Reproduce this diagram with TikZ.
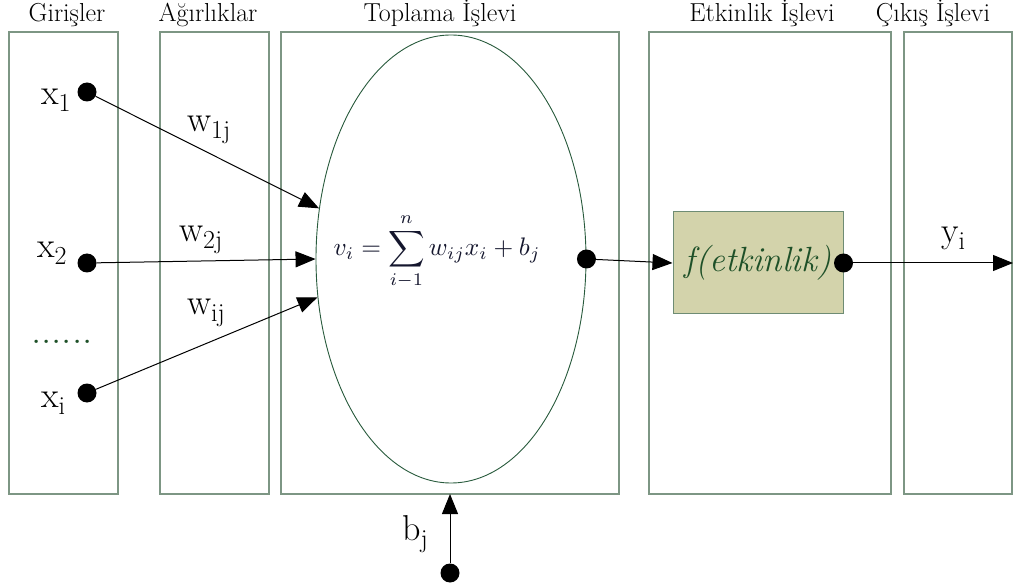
\documentclass[tikz,border=0pt]{standalone}
\usepackage{fontspec}
\usetikzlibrary{arrows.meta,shapes.geometric}
\definecolor{boxline}{RGB}{125,150,132}
\definecolor{ellline}{RGB}{40,90,60}
\definecolor{ffill}{RGB}{211,211,171}
\definecolor{fline}{RGB}{110,140,116}
\definecolor{ftext}{RGB}{30,80,40}
\definecolor{mtext}{RGB}{20,22,45}
\newcommand{\lblsub}[2]{{\fontsize{36}{40}\selectfont #1}\raisebox{-7pt}{\fontsize{26}{30}\selectfont #2}}
\begin{document}
\begin{tikzpicture}[x=1pt,y=-1pt,
  colbox/.style={draw=boxline, line width=1.3pt, inner sep=0pt, outer sep=0pt, minimum height=462pt},
  title/.style={font=\fontsize{26}{30}\selectfont, anchor=base, inner sep=0pt},
  dot/.style={circle, fill=black, minimum size=19pt, inner sep=0pt},
  arr/.style={-{Triangle[length=20pt,width=16pt]}, line width=1pt},
  lbl/.style={anchor=base west, inner sep=0pt}
]
\useasboundingbox (0,0) rectangle (1013,588);
% column boxes
\node[colbox, minimum width=109pt] (bin) at (63.5,263) {};
\node[colbox, minimum width=109pt] (bw) at (214.5,263) {};
\node[colbox, minimum width=338pt] (bsum) at (450,263) {};
\node[colbox, minimum width=242pt] (bact) at (770,263) {};
\node[colbox, minimum width=108pt] (bout) at (958,263) {};
% titles
\node[title] (t1) at (67,22) {Girişler};
\node[title] (t2) at (208,22) {Ağırlıklar};
\node[title] (t3) at (440,22) {Toplama İşlevi};
\node[title] (t4) at (762,22) {Etkinlik İşlevi};
\node[title] (t5) at (933,22) {Çıkış İşlevi};
% summation ellipse
\node[ellipse, draw=ellline, line width=0.9pt, minimum width=270pt, minimum height=448pt, inner sep=0pt] (sum) at (451,259) {};
\node[text=mtext, inner sep=0pt] (eq) at (437,252) {\resizebox{207pt}{!}{$\displaystyle v_i=\sum_{i-1}^{n} w_{ij}x_i+b_j$}};
% activation box
\node[draw=fline, fill=ffill, line width=1pt, minimum width=170pt, minimum height=102pt, inner sep=0pt, text=ftext, font=\fontsize{35}{40}\selectfont\itshape] (act) at (758,263) {f(etkinlik)};
% dots
\node[dot] (x1) at (87,92) {};
\node[dot] (x2) at (87,263) {};
\node[dot] (xi) at (87,393) {};
\node[dot] (sout) at (sum.east) {};
\node[dot] (aout) at (act.east) {};
\node[dot] (bj) at (450,573) {};
\coordinate (yend) at (1013,263);
% connectors
\draw[arr] (x1) -- (sum.159);
\draw[arr] (x2) -- (sum.west);
\draw[arr] (xi) -- (sum.196);
\draw[arr] (sout) -- (act.west);
\draw[arr] (aout) -- (yend);
\draw[arr] (bj) -- (bsum.south);
% labels
\node[lbl] (lx1) at (41,105) {\lblsub{x}{1}};
\node[lbl] (lx2) at (37,258) {\lblsub{x}{2}};
\node[lbl] (lxi) at (41,407) {\lblsub{x}{i}};
\node[lbl] (lw1) at (187,132) {\lblsub{w}{1j}};
\node[lbl] (lw2) at (179,242) {\lblsub{w}{2j}};
\node[lbl] (lwi) at (187,315) {\lblsub{w}{ij}};
\node[lbl] (ly) at (941,243) {\lblsub{y}{i}};
\node[lbl] (lb) at (402,540) {\lblsub{b}{j}};
\node[lbl, text=ftext, font=\fontsize{41}{44}\selectfont] (ldots) at (31,344) {......};
\end{tikzpicture}
\end{document}
